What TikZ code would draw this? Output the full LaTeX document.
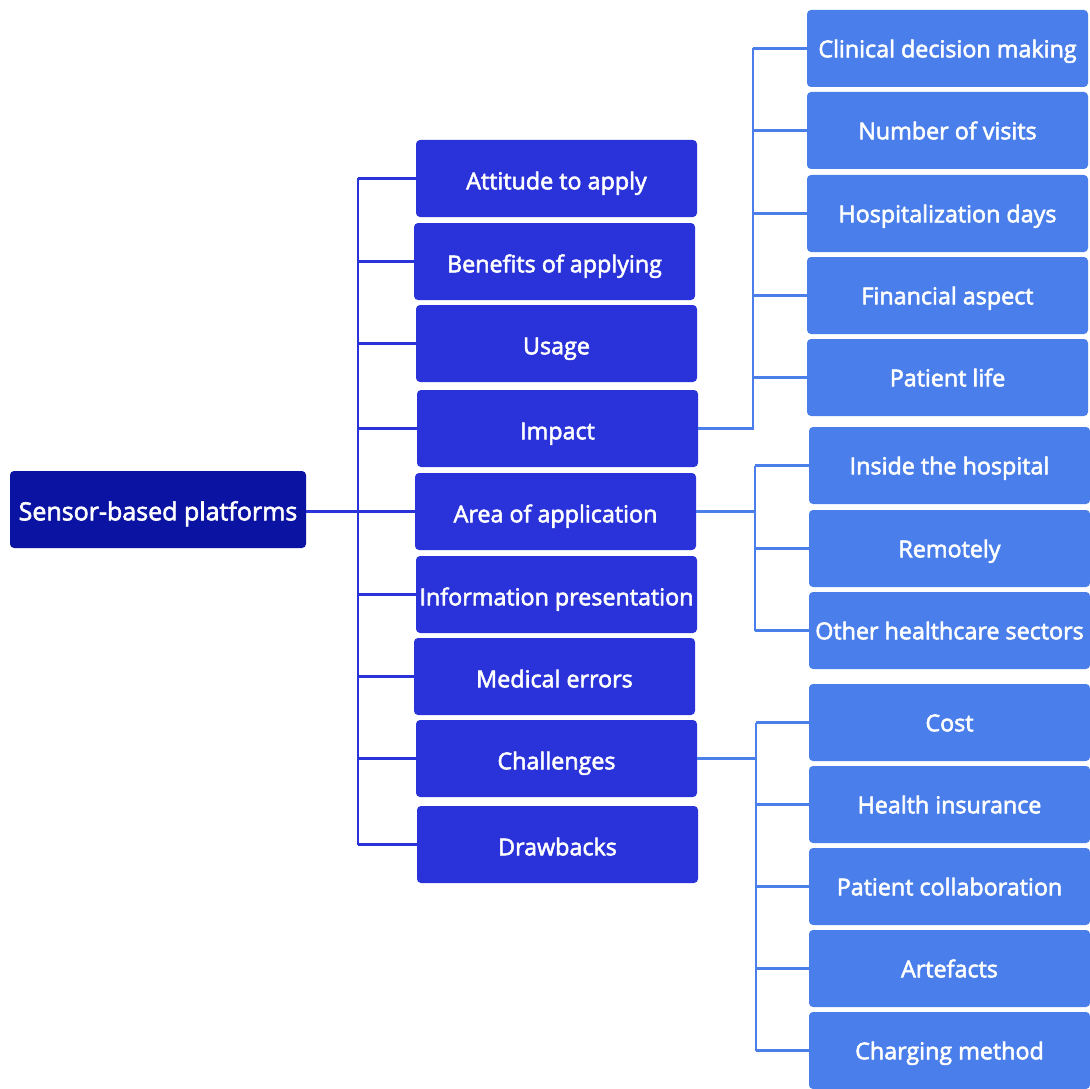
\documentclass[tikz,border=0pt]{standalone}
\usepackage{fontspec}
\newfontfamily\boxfont{Open Sans}[FakeBold=2.4]
\begin{document}
\begin{tikzpicture}[x=1pt,y=-1pt,
  box/.style={rounded corners=4pt, minimum width=281pt, minimum height=77pt,
    inner sep=0pt, text=white, text height=22pt, text depth=0.4pt,
    font=\boxfont\fontsize{23.3}{28}\selectfont, anchor=center},
  rootbox/.style={box, fill=rootcol, minimum width=296pt, font=\boxfont\fontsize{25}{30}\selectfont},
  midbox/.style={box, fill=midcol},
  leafbox/.style={box, fill=leafcol, text height=18pt},
  midline/.style={draw=midcol, line width=2.2pt},
  leafline/.style={draw=leafcol, line width=2.2pt}]
\definecolor{rootcol}{HTML}{0B13A3}
\definecolor{midcol}{HTML}{2A33D9}
\definecolor{leafcol}{HTML}{4A7FEB}
\useasboundingbox (0,0) rectangle (1090,1089);

% root
\node[rootbox] (root) at (158,509.5) {Sensor-based platforms};

% second level
\node[midbox] (m1) at (556.5,178.5) {Attitude to apply};
\node[midbox] (m2) at (554.5,261.5) {Benefits of applying};
\node[midbox] (m3) at (556.5,343.5) {Usage};
\node[midbox] (m4) at (557.5,428.5) {Impact};
\node[midbox] (m5) at (555.5,511.5) {Area of application};
\node[midbox] (m6) at (556.5,594.5) {Information presentation};
\node[midbox] (m7) at (554.5,676.5) {Medical errors};
\node[midbox] (m8) at (556.5,758.5) {Challenges};
\node[midbox] (m9) at (557.5,844.5) {Drawbacks};

% leaves of Impact
\node[leafbox] (a1) at (947.5,48.5) {Clinical decision making};
\node[leafbox] (a2) at (947.5,130.5) {Number of visits};
\node[leafbox] (a3) at (947.5,213.5) {Hospitalization days};
\node[leafbox] (a4) at (947.5,295.5) {Financial aspect};
\node[leafbox] (a5) at (947.5,377.5) {Patient life};

% leaves of Area of application
\node[leafbox] (b1) at (949.5,465.5) {Inside the hospital};
\node[leafbox] (b2) at (949.5,548.5) {Remotely};
\node[leafbox] (b3) at (949.5,630.5) {Other healthcare sectors};

% leaves of Challenges
\node[leafbox] (c1) at (949.5,722.5) {Cost};
\node[leafbox] (c2) at (949.5,804.5) {Health insurance};
\node[leafbox] (c3) at (949.5,886.5) {Patient collaboration};
\node[leafbox] (c4) at (949.5,968.5) {Artefacts};
\node[leafbox] (c5) at (949.5,1050.5) {Charging method};

% trunk from root to second level
\coordinate (tr) at (358,0);
\draw[midline] (root.east |- m5.west) -- (m5.west);
\draw[midline] (tr |- m1.west) -- (tr |- m9.west);
\foreach \n in {m1,m2,m3,m4,m5,m6,m7,m8,m9}
  \draw[midline] (tr |- \n.west) -- (\n.west);

% Impact branch
\coordinate (ta) at (753,0);
\draw[leafline] (m4.east) -- (ta |- m4.east) -- (ta |- a1.west);
\foreach \n in {a1,a2,a3,a4,a5}
  \draw[leafline] (ta |- \n.west) -- (\n.west);

% Area of application branch
\coordinate (tb) at (755,0);
\draw[leafline] (m5.east) -- (tb |- m5.east);
\draw[leafline] (tb |- b1.west) -- (tb |- b3.west);
\foreach \n in {b1,b2,b3}
  \draw[leafline] (tb |- \n.west) -- (\n.west);

% Challenges branch
\coordinate (tc) at (756,0);
\draw[leafline] (m8.east) -- (tc |- m8.east);
\draw[leafline] (tc |- c1.west) -- (tc |- c5.west);
\foreach \n in {c1,c2,c3,c4,c5}
  \draw[leafline] (tc |- \n.west) -- (\n.west);
\end{tikzpicture}
\end{document}
